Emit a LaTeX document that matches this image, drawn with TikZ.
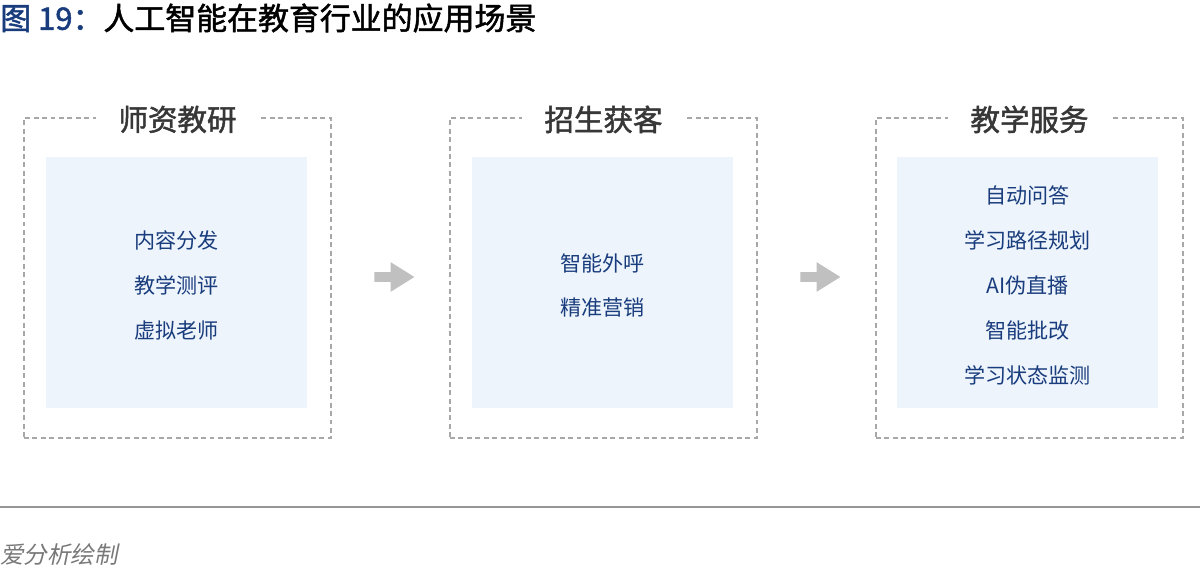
\documentclass[tikz,border=0pt]{standalone}
\usepackage{fontspec}
\setmainfont{Noto Sans CJK SC}
\newfontfamily\slantcjk[FakeSlant=0.2]{Noto Sans CJK SC}
\newfontfamily\heavycjk[FakeBold=1.6]{Noto Sans CJK SC}
\usepackage{tikz}
\usetikzlibrary{positioning,calc,shapes.arrows}
\usepackage{xcolor}
\definecolor{navyblue}{RGB}{25,60,125}
\definecolor{paleblue}{RGB}{237,244,252}
\definecolor{dashgray}{RGB}{168,168,168}
\definecolor{arrowgray}{RGB}{192,192,192}
\definecolor{headgray}{RGB}{55,55,55}
\definecolor{rulegray}{RGB}{150,150,150}

\tikzset{
  outerbox/.style={draw=dashgray, line width=0.7pt, dash pattern=on 2.8pt off 2pt,
    minimum width=6.14cm, minimum height=6.4cm, inner sep=0pt},
  innerbox/.style={fill=paleblue, minimum width=5.22cm, minimum height=5.02cm, inner sep=0pt},
  boxhead/.style={fill=white, text=headgray, inner xsep=0.44cm, inner ysep=2pt,
    font=\heavycjk\fontsize{16.8}{18}\selectfont},
  itemlist/.style={text=navyblue, align=center, font=\fontsize{12}{25.6}\selectfont},
  blockarrow/.style={single arrow, fill=arrowgray, draw=none, inner sep=0.09cm,
    minimum height=0.8cm, single arrow head extend=0.2cm, single arrow tip angle=64}
}

\begin{document}
\begin{tikzpicture}[x=0.02cm, y=-0.02cm]
    \useasboundingbox (0,0) rectangle (1200,570);

    \node[anchor=west, inner sep=0pt, font=\heavycjk\fontsize{17.6}{20}\selectfont] (title) at (0,18)
      {\textcolor{navyblue}{图 19：}人工智能在教育行业的应用场景};

    % three columns
    \node[outerbox] (yanjiu)    at (177.5,278) {};
    \node[outerbox] (zhaosheng) at (603.5,278) {};
    \node[outerbox] (fuwu)      at (1029.5,278) {};

    \node[innerbox] (yanjiuin)    at (176.5,282.5) {};
    \node[innerbox] (zhaoshengin) at (602.5,282.5) {};
    \node[innerbox] (fuwuin)      at (1027.5,282.5) {};

    \node[boxhead, yshift=-0.04cm] (yanjiuhd)    at (yanjiu.north)    {师资教研};
    \node[boxhead, yshift=-0.04cm] (zhaoshenghd) at (zhaosheng.north) {招生获客};
    \node[boxhead, yshift=-0.04cm] (fuwuhd)      at (fuwu.north)      {教学服务};

    \node[itemlist, yshift=-0.06cm] (yanjiutx)    at (yanjiuin)    {内容分发\\教学测评\\虚拟老师};
    \node[itemlist, yshift=-0.06cm] (zhaoshengtx) at (zhaoshengin) {智能外呼\\精准营销};
    \node[itemlist, yshift=-0.06cm] (fuwutx)      at (fuwuin)
      {自动问答\\学习路径规划\\AI伪直播\\智能批改\\学习状态监测};

    \node[blockarrow] (arr1) at ($(yanjiu.east)!0.5!(zhaosheng.west)+(0,-1)$) {};
    \node[blockarrow] (arr2) at ($(zhaosheng.east)!0.5!(fuwu.west)+(0,-1)$) {};

    \coordinate (ruleL) at (0,507);
    \coordinate (ruleR) at (1200,507);
    \draw[rulegray, line width=0.8pt] (ruleL) -- (ruleR);

    \node[anchor=west, inner sep=0pt, text=rulegray!80!black, font=\slantcjk\fontsize{13.4}{15}\selectfont]
      (source) at (0,555) {爱分析绘制};
  \end{tikzpicture}
\end{document}
